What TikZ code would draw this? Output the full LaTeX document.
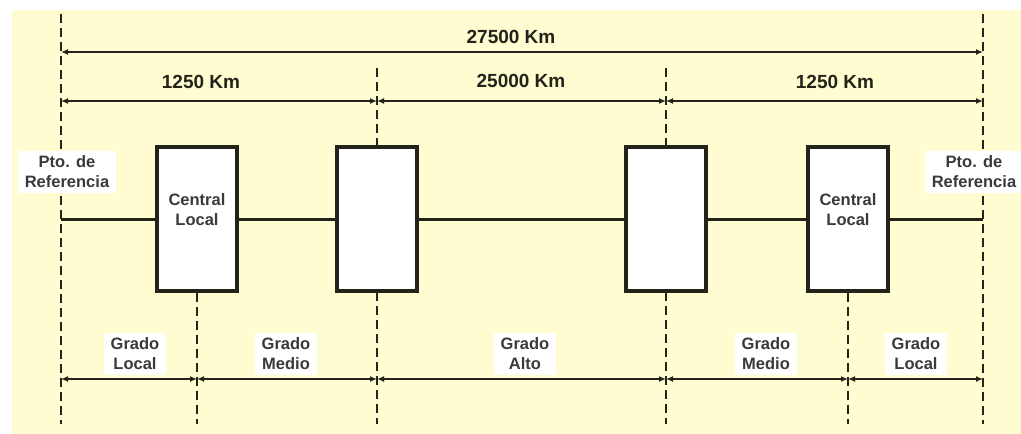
\documentclass[tikz,border=0pt]{standalone}
\usepackage{fontspec}
\setmainfont{Liberation Sans}
\definecolor{paper}{HTML}{FFFCD2}
\definecolor{ink}  {HTML}{23231A}
\definecolor{ink2} {HTML}{3A3A3A}
\usetikzlibrary{arrows.meta, positioning}

\begin{document}
\begin{tikzpicture}[
  x=1pt, y=-1pt,
  guide/.style={draw=ink, line width=2.2pt, dash pattern=on 9pt off 5pt},
  dim/.style  ={{Latex[length=7pt,width=6pt]}-{Latex[length=7pt,width=6pt]},
                draw=ink, line width=2.5pt},
  wire/.style ={draw=ink, line width=3pt},
  office/.style={draw=ink, fill=white, line width=3.5pt, minimum width=80pt,
                 minimum height=144pt, inner sep=0pt},
  inbox/.style={align=center, inner sep=0pt,
                font=\bfseries\fontsize{16.5}{20}\selectfont, text=ink2},
  km/.style   ={font=\bfseries\fontsize{19}{22}\selectfont, text=ink},
  tag/.style  ={fill=white, align=center, inner xsep=7pt, inner ysep=5pt,
                font=\bfseries\fontsize{16.5}{20}\selectfont, text=ink2},
]
  % --- page and background ---------------------------------------
  \useasboundingbox (0,0) rectangle (1021,434);
  \fill[white] (0,0) rectangle (1021,434);
  \fill[paper] (12,10) rectangle (1021,434);

  % --- reference positions along the route -----------------------
  \foreach \n/\x in {a/61, b/197, c/377, d/666, e/848, f/983} {
    \coordinate (up\n)  at (\x,101);
    \coordinate (low\n) at (\x,379);
    \coordinate (end\n) at (\x,424);
  }
  \coordinate (topa) at (61,52);
  \coordinate (topf) at (983,52);

  % --- dashed guide lines ----------------------------------------
  \draw[guide] (61,14) -- (enda);
  \draw[guide] (983,14) -- (endf);
  \draw[guide] (377,68) -- (endc);
  \draw[guide] (666,68) -- (endd);

  % --- exchanges on the line -------------------------------------
  \coordinate (linea) at (61,219);
  \coordinate (linef) at (983,219);
  \node[office] (loc1) at (197,219) {};
  \node[office] (mid1) at (377,219) {};
  \node[office] (mid2) at (666,219) {};
  \node[office] (loc2) at (848,219) {};
  \node[inbox] (loc1t) at ([yshift=9pt]loc1.center) {Central\\Local};
  \node[inbox] (loc2t) at ([yshift=9pt]loc2.center) {Central\\Local};
  \draw[wire] (linea) -- (loc1.west);
  \draw[wire] (loc1.east) -- (mid1.west);
  \draw[wire] (mid1.east) -- (mid2.west);
  \draw[wire] (mid2.east) -- (loc2.west);
  \draw[wire] (loc2.east) -- (linef);
  \draw[guide] (loc1.south) -- (endb);
  \draw[guide] (loc2.south) -- (ende);

  % --- reference points ------------------------------------------
  \node[tag] (refl) at (67,172) {Pto. de\\Referencia};
  \node[tag] (refr) at (974,172) {Pto. de\\Referencia};

  % --- distances -------------------------------------------------
  \draw[dim] (topa) -- (topf);
  \node[km] (total) at (511,37) {27500 Km};
  \draw[dim] (upa) -- (upc);
  \draw[dim] (upc) -- (upd);
  \draw[dim] (upd) -- (upf);
  \node[km] (kml) at (201,82) {1250 Km};
  \node[km] (kmc) at (521,81) {25000 Km};
  \node[km] (kmr) at (835,82) {1250 Km};

  % --- grades of the connection ----------------------------------
  \foreach \p/\q in {a/b, b/c, c/d, d/e, e/f}
    \draw[dim] (low\p) -- (low\q);
  \node[tag] (g1) at (135,354) {Grado\\Local};
  \node[tag] (g2) at (286,354) {Grado\\Medio};
  \node[tag] (g3) at (525,354) {Grado\\Alto};
  \node[tag] (g4) at (766,354) {Grado\\Medio};
  \node[tag] (g5) at (916,354) {Grado\\Local};
\end{tikzpicture}
\end{document}
